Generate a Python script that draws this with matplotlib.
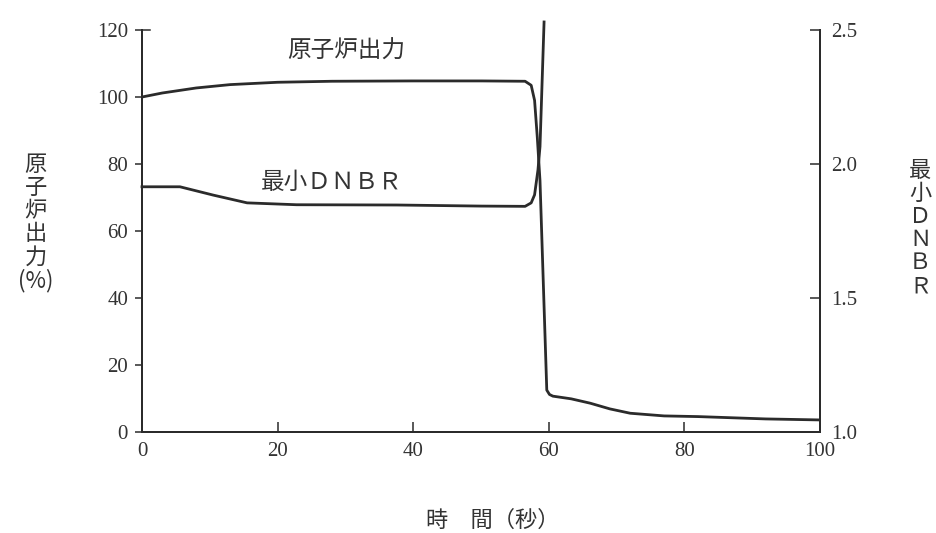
import matplotlib.pyplot as plt
import numpy as np

plt.rcParams['font.family'] = ['Noto Sans CJK JP', 'DejaVu Sans']

# 原子炉出力 (%)
power_t = [0, 3, 8, 13, 20, 28, 40, 50, 56.5, 57.4, 57.9, 58.3, 58.7, 59.7, 60.1, 60.6,
           63.3, 66.1, 69, 72, 77, 82, 92, 100]
power_v = [100, 101.2, 102.7, 103.7, 104.4, 104.7, 104.8, 104.8, 104.7, 103.5, 99, 88, 75,
           12.5, 11.2, 10.7, 9.9, 8.6, 6.9, 5.6, 4.8, 4.6, 3.9, 3.6]

# 最小DNBR
dnbr_t = [0, 5.6, 10.5, 15.5, 22.8, 37.6, 50, 56.5, 57.4, 57.9, 58.4, 58.7, 59.3]
dnbr_v = [1.915, 1.915, 1.884, 1.855, 1.848, 1.847, 1.843, 1.842, 1.855, 1.885, 1.978,
          2.065, 2.53]

left_ticks = [0, 20, 40, 60, 80, 100, 120]
right_ticks = [1.0, 1.5, 2.0, 2.5]
x_ticks = [0, 20, 40, 60, 80, 100]

ink = '#2b2b2b'
num_font = 'Liberation Serif'

fig = plt.figure(figsize=(9.36, 5.33), dpi=100)
ax = fig.add_axes([0.1517, 0.1895, 0.7244, 0.7542])
ax2 = ax.twinx()

ax.plot(power_t, power_v, color=ink, lw=2.0, solid_joinstyle='round')
ax2.plot(dnbr_t, dnbr_v, color=ink, lw=2.0, solid_joinstyle='round', clip_on=False)

ax.set_xlim(0, 100)
ax.set_ylim(0, 120)
ax2.set_ylim(1.0, 2.5)

for a in (ax, ax2):
    a.spines['top'].set_visible(False)
    for s in a.spines.values():
        s.set_color(ink)
        s.set_linewidth(1.4)

ax.set_xticks(x_ticks)
ax.set_xticklabels([str(v) for v in x_ticks], family=num_font, fontsize=15, color='#333')
ax.set_yticks(left_ticks)
ax.set_yticklabels([str(v) for v in left_ticks], family=num_font, fontsize=15, color='#333')
ax.tick_params(axis='x', direction='in', length=7, width=1.1, color=ink, pad=7)
ax.tick_params(axis='y', direction='out', length=5, width=1.1, color=ink, pad=5)

ax2.set_yticks(right_ticks)
ax2.set_yticklabels([f'{v:.1f}' for v in right_ticks], family=num_font, fontsize=15, color='#333')
ax2.tick_params(axis='y', direction='in', length=7, width=1.1, color=ink, pad=8)

# 上端の目盛りは内向き
ax.plot([0, 1.2], [120, 120], color=ink, lw=1.1, clip_on=False)

ax.text(30.1, 113.7, '原子炉出力', fontsize=17, color='#333', ha='center', va='center')
ax.text(28, 74.6, '最小ＤＮＢＲ', fontsize=17, color='#333', ha='center', va='center')

fig.text(0.038, 0.582, '原\n子\n炉\n出\n力\n(%)', fontsize=16, color='#333',
         ha='center', va='center', linespacing=1.0)
fig.text(0.983, 0.572, '最\n小\nＤ\nＮ\nＢ\nＲ', fontsize=16, color='#333',
         ha='center', va='center', linespacing=1.0)
fig.text(0.526, 0.024, '時　間（秒）', fontsize=16, color='#333',
         ha='center', va='center')

fig.savefig('out.png', dpi=100)
